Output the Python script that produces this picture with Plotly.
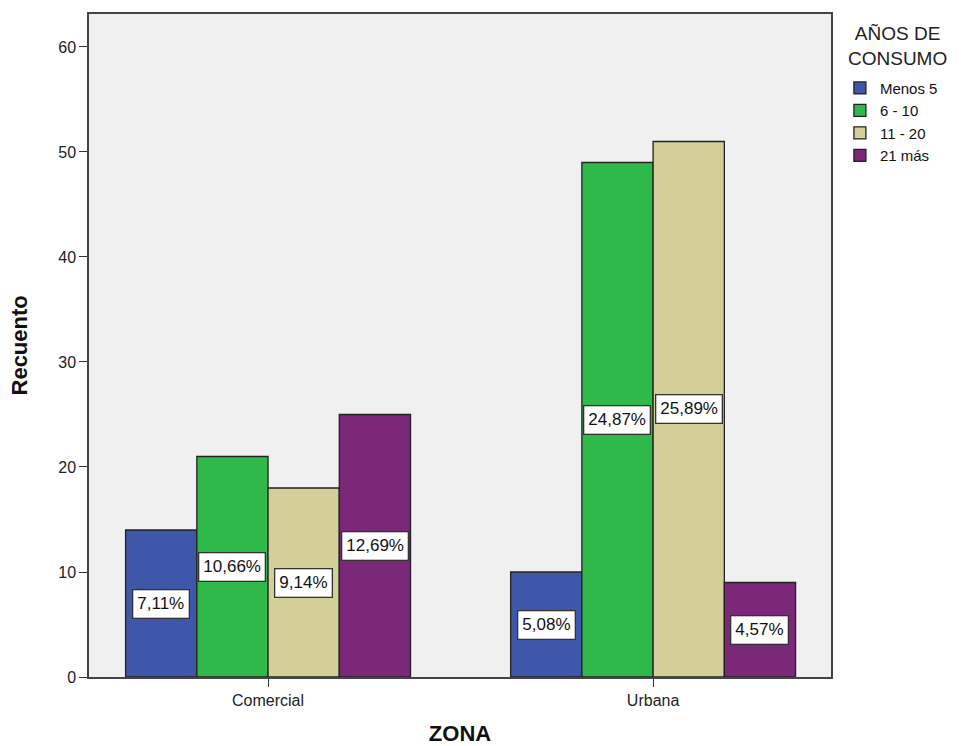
import plotly.graph_objects as go

zonas = ["Comercial", "Urbana"]
grupos = ["Menos 5", "6 - 10", "11 - 20", "21 más"]
valores = {
    "Menos 5": [14, 10],
    "6 - 10": [21, 49],
    "11 - 20": [18, 51],
    "21 más": [25, 9],
}
colores = ["#3F57A8", "#2FB94A", "#D4CF98", "#7B2878"]
total = sum(sum(v) for v in valores.values())

FONT = "Liberation Sans, Arial"
bargap = 0.26
fig = go.Figure()
for g, c in zip(grupos, colores):
    fig.add_trace(go.Bar(
        x=zonas, y=valores[g], name=g,
        marker=dict(color=c, line=dict(color="#222222", width=1.3)),
    ))

n = len(grupos)
bw = (1 - bargap) / n
annotations = []
for i, g in enumerate(grupos):
    off = -(1 - bargap) / 2 + bw * (i + 0.5)
    for j, z in enumerate(zonas):
        v = valores[g][j]
        pct = f"{100 * v / total:.2f}%".replace(".", ",")
        annotations.append(dict(
            x=j + off, y=v / 2, xref="x", yref="y", text=pct, showarrow=False,
            font=dict(family=FONT, size=17, color="#111111"),
            bgcolor="white", bordercolor="#333333", borderwidth=1.3, borderpad=4,
        ))

# legend title and y-axis title
annotations.append(dict(text="AÑOS DE<br>CONSUMO", xref="paper", yref="paper",
                        x=1.09, y=0.952, xanchor="center", yanchor="middle",
                        showarrow=False, font=dict(family=FONT, size=19, color="#222222")))
annotations.append(dict(text="<b>Recuento</b>", xref="paper", yref="paper", x=-0.093, y=0.5,
                        xanchor="center", yanchor="middle",
                        textangle=-90, showarrow=False,
                        font=dict(family=FONT, size=22, color="#111111")))

fig.update_layout(
    width=966, height=746,
    margin=dict(l=89, r=135, t=14, b=69, autoexpand=False),
    paper_bgcolor="white", plot_bgcolor="#F0F0F0",
    barmode="group", bargap=bargap, bargroupgap=0,
    font=dict(family=FONT, size=13, color="#222222"),
    showlegend=True,
    legend=dict(
        x=1.012, xanchor="left", y=0.913, yanchor="top",
        font=dict(size=15, color="#111111"),
        itemwidth=30, tracegroupgap=0,
        bgcolor="rgba(0,0,0,0)",
    ),
    annotations=annotations,
)
fig.update_xaxes(
    range=[-0.465, 1.462], showline=True, linecolor="#444444", linewidth=1.5, mirror=True,
    ticks="outside", ticklen=8, tickcolor="#333333", showgrid=False, automargin=False,
    title=dict(text="<b>ZONA</b>", font=dict(size=22, color="#111111"), standoff=22),
    tickfont=dict(size=16),
)
fig.update_yaxes(
    range=[0, 63.14], showline=True, linecolor="#444444", linewidth=1.5, mirror=True,
    ticks="outside", ticklen=8, tickcolor="#333333", showgrid=False, zeroline=False,
    automargin=False,
    tickvals=[0, 10, 20, 30, 40, 50, 60],
    tickfont=dict(size=16),
)

fig.write_html("out.html")
